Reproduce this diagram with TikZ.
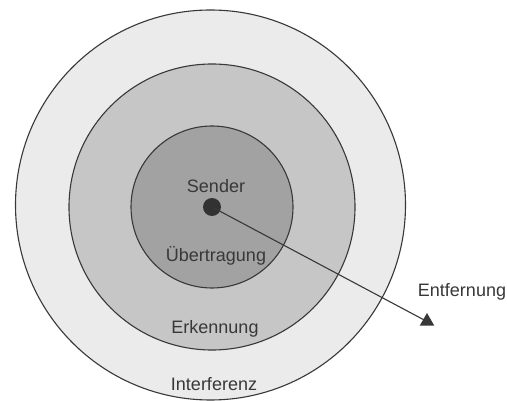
\documentclass[tikz,border=0pt]{standalone}
\usepackage{fontspec}
\setmainfont{Liberation Sans}
\usetikzlibrary{shapes.geometric}
\definecolor{bgc}{HTML}{F7F7F7}
\definecolor{ringA}{HTML}{EBEBEB}
\definecolor{ringB}{HTML}{C6C6C6}
\definecolor{ringC}{HTML}{A2A2A2}
\definecolor{ink}{HTML}{383838}
\tikzset{
  ring/.style={circle, draw=ink, line width=1.1pt, inner sep=0pt, minimum size=#1},
  lbl/.style={font=\fontsize{18}{20}\selectfont, text=ink, anchor=base, inner sep=0pt},
}
\begin{document}
\begin{tikzpicture}[x=1pt,y=-1pt]
\fill[white] (0,0) rectangle (507,401);
\useasboundingbox (0,0) rectangle (507,401);
\node[ring=390pt, fill=ringA] (outer) at (210.5,205) {};
\node[ring=286pt, fill=ringB] (middle) at (212,207) {};
\node[ring=162pt, fill=ringC] (inner) at (212,207) {};
\node[circle, fill=ink!90!black, inner sep=0pt, minimum size=18pt] (dot) at (212,207) {};
\node[regular polygon, regular polygon sides=3, fill=ink, inner sep=0pt, minimum size=17pt] (tri) at (427,321.5) {};
\draw[ink, line width=1.1pt] (dot.center) -- (tri.center);
\node[lbl] (sender) at (216,193) {Sender};
\node[lbl] (uebertragung) at (216,262) {Übertragung};
\node[lbl] (erkennung) at (215,334) {Erkennung};
\node[lbl] (interferenz) at (214,391) {Interferenz};
\node[lbl] (entfernung) at (462,297) {Entfernung};
\end{tikzpicture}
\end{document}
